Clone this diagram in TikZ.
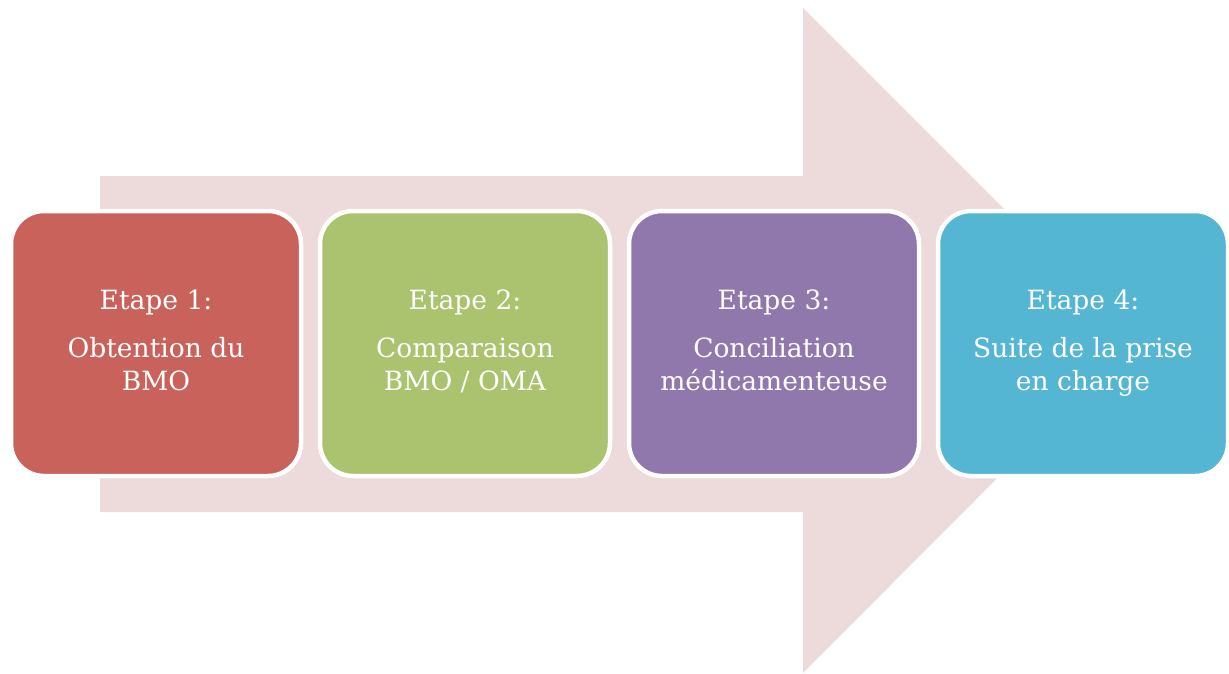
\documentclass[tikz,border=0pt]{standalone}
\usepackage{fontspec}
\setmainfont{DejaVu Serif}
\definecolor{fleche}{RGB}{237,218,218}
\definecolor{rouge}{RGB}{200,98,90}
\definecolor{vert}{RGB}{171,194,111}
\definecolor{violet}{RGB}{145,120,172}
\definecolor{bleu}{RGB}{84,182,210}
\tikzset{
  etape/.style={rectangle, rounded corners=33, draw=white, line width=4.5,
    minimum width=290, minimum height=265, align=center, text=white,
    font=\fontsize{26.5}{33}\selectfont, execute at end node=\vphantom{g}}
}
\begin{document}
\begin{tikzpicture}[x=1pt,y=-1pt]
    \useasboundingbox (0,0) rectangle (1229,674) ;
    % grande fleche de fond
    \fill[fleche] (100,176) -- (803,176) -- (803,8) -- (1135,340)
      -- (803,673) -- (803,512) -- (100,512) -- cycle ;
    % les quatre etapes
    \node[etape, fill=rouge] (e1) at (156,343.5) {Etape 1:\\[15pt]Obtention du\\BMO} ;
    \node[etape, fill=vert] (e2) at (465,343.5) {Etape 2:\\[15pt]Comparaison\\BMO / OMA} ;
    \node[etape, fill=violet] (e3) at (774,343.5) {Etape 3:\\[15pt]Conciliation\\médicamenteuse} ;
    \node[etape, fill=bleu] (e4) at (1083,343.5) {Etape 4:\\[15pt]Suite de la prise\\en charge} ;
  \end{tikzpicture}
\end{document}
